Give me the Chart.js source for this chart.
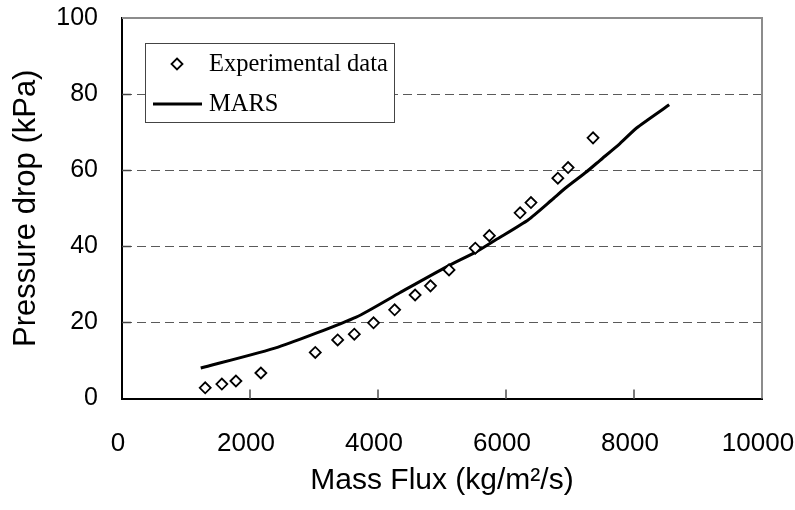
<!DOCTYPE html>
<html>
<head>
<meta charset="utf-8">
<script src="https://cdn.jsdelivr.net/npm/chart.js@4"></script>
<style>
  html, body { margin: 0; padding: 0; background: #fff; }
  #wrap { width: 795px; height: 510px; position: relative; }
</style>
</head>
<body>
<div id="wrap"><canvas id="c" width="795" height="510"></canvas></div>
<script>
// ---- data ----
const expFlux = [1300, 1560, 1780, 2170, 3020, 3370, 3630, 3930, 4260, 4580, 4820, 5110, 5520, 5740, 6220, 6390, 6810, 6970, 7360];
const expDrop = [2.8, 3.8, 4.6, 6.7, 12.1, 15.4, 16.9, 19.9, 23.3, 27.2, 29.6, 33.8, 39.5, 42.8, 48.8, 51.5, 57.9, 60.7, 68.5];
const marsFlux = [1230, 2440, 3660, 4340, 5070, 5540, 5860, 6350, 6710, 6920, 7260, 7470, 7780, 8040, 8550];
const marsDrop = [8.0, 13.5, 21.4, 27.8, 34.6, 38.6, 41.9, 47.0, 52.1, 55.2, 59.6, 62.6, 67.0, 71.1, 77.2];
const xTicks = [0, 2000, 4000, 6000, 8000, 10000];
const yTicks = [0, 20, 40, 60, 80, 100];
const seriesLabels = ['Experimental data', 'MARS'];
const xTitle = 'Mass Flux (kg/m\u00B2/s)';
const yTitle = 'Pressure drop (kPa)';

const SANS = "'Liberation Sans', Arial, sans-serif";
const SERIF = "'Liberation Serif', 'Times New Roman', serif";

const framePlugin = {
  id: 'frame',
  beforeDatasetsDraw(chart) {
    const {ctx, chartArea: a, scales: {x, y}} = chart;
    ctx.save();
    ctx.strokeStyle = '#8c8c8c';
    ctx.lineWidth = 2;
    ctx.beginPath();
    ctx.moveTo(a.left, a.top); ctx.lineTo(a.right, a.top); ctx.lineTo(a.right, a.bottom);
    ctx.stroke();
    ctx.strokeStyle = '#7a7a7a';
    ctx.lineWidth = 2;
    xTicks.forEach(v => {
      if (v === xTicks[0] || v === xTicks[xTicks.length - 1]) return;
      const px = Math.round(x.getPixelForValue(v));
      ctx.beginPath(); ctx.moveTo(px, a.bottom); ctx.lineTo(px, a.bottom - 9); ctx.stroke();
    });
    ctx.strokeStyle = '#444';
    ctx.lineWidth = 1.5;
    yTicks.forEach(v => {
      if (v === yTicks[0] || v === yTicks[yTicks.length - 1]) return;
      const py = Math.round(y.getPixelForValue(v)) + 0.5;
      ctx.beginPath(); ctx.moveTo(a.left, py); ctx.lineTo(a.left + 9, py); ctx.stroke();
    });
    ctx.restore();
  }
};

const legendPlugin = {
  id: 'boxLegend',
  afterDatasetsDraw(chart) {
    const {ctx} = chart;
    const ds = chart.data.datasets;
    const bx = 145, by = 43, bw = 249, bh = 79;
    ctx.save();
    ctx.fillStyle = '#fff';
    ctx.fillRect(bx, by, bw, bh);
    ctx.strokeStyle = '#444';
    ctx.lineWidth = 1;
    ctx.strokeRect(bx + 0.5, by + 0.5, bw, bh);
    ctx.font = '24.5px ' + SERIF;
    ctx.fillStyle = '#000';
    ctx.textBaseline = 'middle';
    ctx.textAlign = 'left';
    const cy1 = 64, cy2 = 104;
    const d = ds[0];
    ctx.beginPath();
    const r = d.pointRadius, cx = 177;
    ctx.moveTo(cx, cy1 - r); ctx.lineTo(cx + r, cy1); ctx.lineTo(cx, cy1 + r); ctx.lineTo(cx - r, cy1); ctx.closePath();
    ctx.fillStyle = d.pointBackgroundColor; ctx.fill();
    ctx.strokeStyle = d.pointBorderColor; ctx.lineWidth = d.pointBorderWidth; ctx.stroke();
    ctx.fillStyle = '#000';
    ctx.fillText(d.label, 209, cy1 + 1);
    const m = ds[1];
    ctx.strokeStyle = m.borderColor; ctx.lineWidth = m.borderWidth;
    ctx.beginPath(); ctx.moveTo(153, cy2); ctx.lineTo(202, cy2); ctx.stroke();
    ctx.fillText(m.label, 209, cy2 + 1);
    ctx.restore();
  }
};

new Chart(document.getElementById('c'), {
  type: 'scatter',
  data: {
    datasets: [
      {
        label: seriesLabels[0],
        data: expFlux.map((v, i) => ({x: v, y: expDrop[i]})),
        pointStyle: 'rectRot',
        pointRadius: 5.5,
        pointBorderWidth: 1.8,
        pointBorderColor: '#000',
        pointBackgroundColor: '#fff',
        showLine: false,
        order: 1
      },
      {
        label: seriesLabels[1],
        data: marsFlux.map((v, i) => ({x: v, y: marsDrop[i]})),
        showLine: true,
        borderColor: '#000',
        borderWidth: 3,
        pointRadius: 0,
        tension: 0.2,
        order: 2
      }
    ]
  },
  options: {
    responsive: false,
    animation: false,
    devicePixelRatio: 1,
    layout: { padding: { top: 18, right: 33, left: 0, bottom: 0 } },
    plugins: { legend: { display: false }, tooltip: { enabled: false } },
    scales: {
      x: {
        type: 'linear',
        min: xTicks[0], max: xTicks[xTicks.length - 1],
        afterBuildTicks(s) { s.ticks = xTicks.map(v => ({value: v})); },
        afterFit(s) { s.height = 111.5; s.paddingLeft = 0; s.paddingRight = 0; },
        grid: { display: true, drawOnChartArea: false, drawTicks: false, tickLength: 0 },
        border: { display: true, color: '#000', width: 2 },
        ticks: { color: '#000', font: { family: SANS, size: 26 }, padding: 30, labelOffset: -4, maxRotation: 0, callback: v => String(v) },
        title: { display: true, text: xTitle, color: '#000', font: { family: SANS, size: 30 }, padding: { top: 0, bottom: 11 } }
      },
      y: {
        type: 'linear',
        min: yTicks[0], max: yTicks[yTicks.length - 1],
        afterBuildTicks(s) { s.ticks = yTicks.map(v => ({value: v})); },
        afterFit(s) { s.width = 122; s.paddingTop = 0; s.paddingBottom = 0; },
        grid: {
          drawTicks: false, tickLength: 0,
          color: c => (c.tick && (c.tick.value === yTicks[0] || c.tick.value === yTicks[yTicks.length - 1])) ? 'rgba(0,0,0,0)' : '#5a5a5a',
          lineWidth: 1
        },
        border: { display: true, color: '#000', width: 2, dash: [9, 5] },
        ticks: { color: '#000', font: { family: SANS, size: 25 }, padding: 24, callback: v => String(v) },
        title: { display: true, text: yTitle, color: '#000', font: { family: SANS, size: 31 }, padding: { top: 8, bottom: 0 } }
      }
    }
  },
  plugins: [framePlugin, legendPlugin]
});
</script>
</body>
</html>
